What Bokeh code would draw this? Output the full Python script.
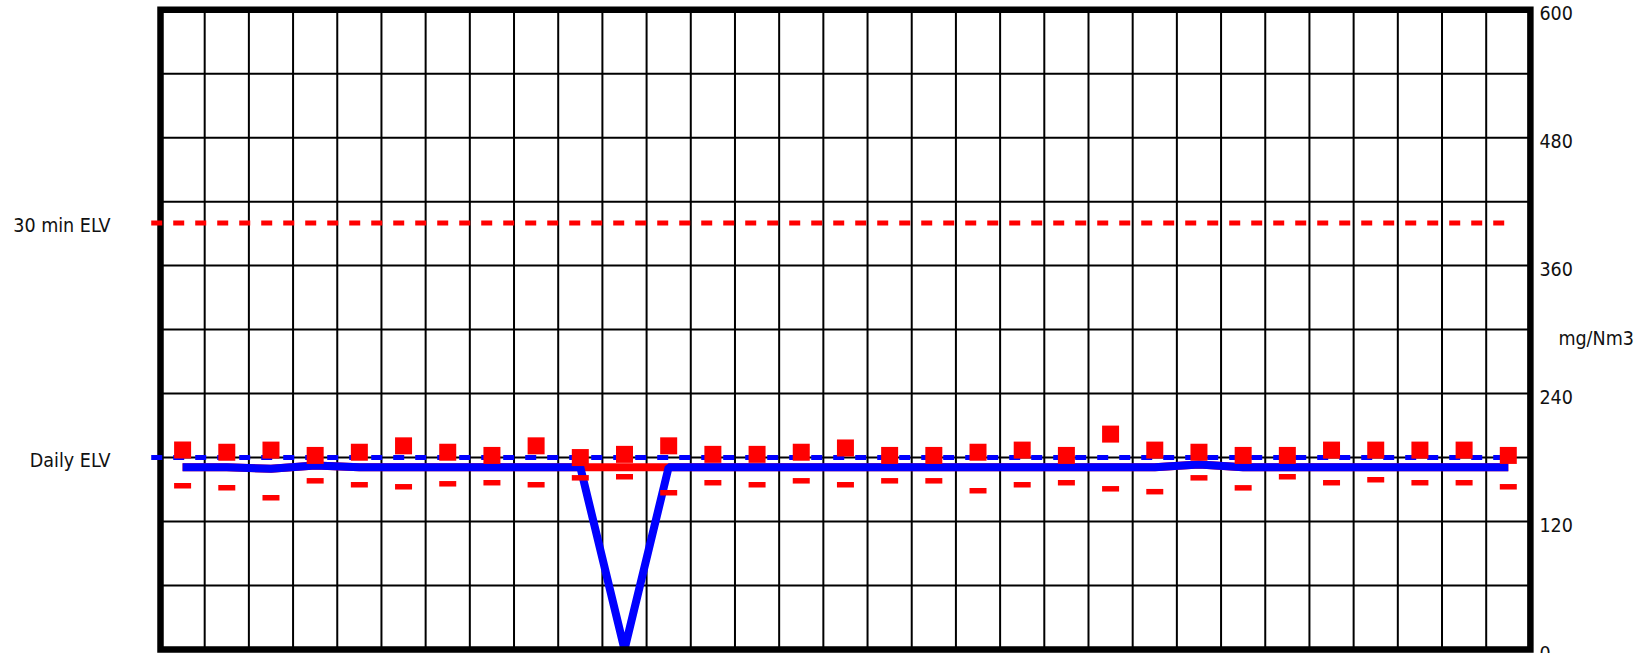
import numpy as np
from bokeh.plotting import figure
from bokeh.models import Range1d
from bokeh.core.properties import value
from bokeh.embed import file_html
from bokeh.resources import INLINE

# ---------------- data ----------------
days = list(range(1, 32))
daily_max = [187, 185, 187, 182, 185, 191, 185, 182, 191, 180, 183, 191, 183, 183, 185, 189,
             182, 182, 185, 187, 182, 202, 187, 185, 182, 182, 187, 187, 187, 187, 182]
daily_min = [153.5, 151.6, 142.3, 158.2, 154.5, 152.6, 155.4, 156.4, 154.5, 161, 162, 147,
             156.4, 154.5, 158.2, 154.5, 158.2, 158.2, 148.9, 154.5, 156.4, 150.7, 148, 161,
             151.6, 162, 156.4, 159.2, 156.4, 156.4, 152.6]
daily_avg = [171, 171, 169.5, 172.5, 171, 171, 171, 171, 171, 171, 0, 171, 171, 171, 171, 171,
             171, 171, 171, 171, 171, 171, 171, 173.5, 171, 171, 171, 171, 171, 171, 171]
daily_avg_valid = [171, 171, 169.5, 172.5, 171, 171, 171, 171, 171, 171, 171, 171, 171, 171, 171, 171,
                   171, 171, 171, 171, 171, 171, 171, 173.5, 171, 171, 171, 171, 171, 171, 171]
elv_names = ["30 min ELV", "Daily ELV"]
elv_values = [400, 180]
y_ticks = [0, 120, 240, 360, 480, 600]
y_tick_labels = ["0", "120", "240", "360", "480", "600"]
y_grid = list(range(0, 601, 60))
unit_label = "mg/Nm3"

FONT = "DejaVu Sans Condensed"
FSIZE = "19.5px"
TCOL = "#111111"

x = [d - 0.5 for d in days]
n = len(days)

# ---------------- figure ----------------
px_per_day = 44.19
y0, y1 = -3.75, 608.63
p = figure(width=1642, height=653, output_backend="svg", toolbar_location=None,
           x_range=Range1d(-160 / px_per_day, (1642 - 160) / px_per_day),
           y_range=Range1d(y0, y1),
           x_axis_location=None, y_axis_location=None,
           min_border_left=0, min_border_top=0, min_border_bottom=0, min_border_right=0)
p.outline_line_color = None
p.xgrid.visible = False
p.ygrid.visible = False
p.background_fill_color = "white"
p.border_fill_color = "white"

# grid lines
vx = list(range(1, n))
p.segment(x0=vx, y0=[y_grid[0]] * len(vx), x1=vx, y1=[y_grid[-1]] * len(vx),
          line_color="black", line_width=2)
hy = y_grid[1:-1]
p.segment(x0=[0] * len(hy), y0=hy, x1=[n] * len(hy), y1=hy, line_color="black", line_width=2)

# average lines
p.line(x, daily_avg_valid, line_color="#ff0000", line_width=8)
p.line(x, daily_avg, line_color="#0000ff", line_width=8)

# frame border
p.quad(left=[0], right=[n], bottom=[y_grid[0]], top=[y_grid[-1]], fill_color=None,
       line_color="black", line_width=6.5, line_join="miter")

# ELV lines
p.segment(x0=[-0.21], y0=[elv_values[0]], x1=[n - 0.57], y1=[elv_values[0]],
          line_color="#ff0000", line_width=5, line_dash="11 11")
p.segment(x0=[-0.21], y0=[elv_values[1]], x1=[n - 0.57], y1=[elv_values[1]],
          line_color="#0000ff", line_width=5, line_dash="11 11")

# ELV labels
p.text(x=[0, 0], y=elv_values, text=elv_names, x_offset=-50, y_offset=3,
       text_align="right", text_baseline="middle", text_font=value(FONT),
       text_font_size=FSIZE, text_color=TCOL)

# max / min markers
p.scatter(x, daily_max, marker="square", size=17, fill_color="#ff0000", line_color=None)
p.rect(x, daily_min, width=17, height=5.5, width_units="screen", height_units="screen",
       fill_color="#ff0000", line_color=None)

# right-hand value labels and unit
p.text(x=[n] * len(y_ticks), y=y_ticks, text=y_tick_labels, x_offset=9, y_offset=3,
       text_align="left", text_baseline="middle", text_font=value(FONT),
       text_font_size=FSIZE, text_color=TCOL)
p.text(x=[n], y=[(y_ticks[0] + y_ticks[-1]) / 2], text=[unit_label], x_offset=28, y_offset=9,
       text_align="left", text_baseline="middle", text_font=value(FONT),
       text_font_size=FSIZE, text_color=TCOL)

open("out.html", "w").write(file_html(p, INLINE))
